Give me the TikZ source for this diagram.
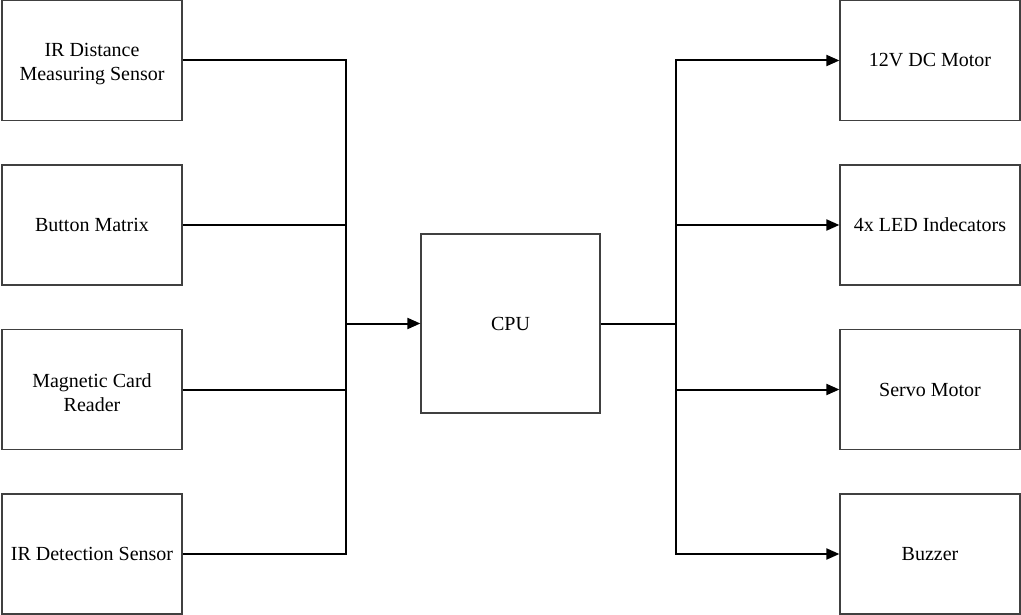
\documentclass[tikz,border=0pt]{standalone}
\usepackage{fontspec}
\setmainfont{Liberation Serif}
\usetikzlibrary{arrows.meta}
\newcommand{\topstrut}{\rule{0pt}{19.5pt}}
\begin{document}
\begin{tikzpicture}[x=1pt,y=-1pt,
  blk/.style={draw=black!75,line width=1.2pt,minimum width=180pt,minimum height=120pt,inner sep=0pt,align=center,font=\fontsize{20pt}{24pt}\selectfont},
  wire/.style={line width=2pt,black},
  arr/.style={wire,-{Triangle[length=13pt,width=11pt]}}]
\useasboundingbox (0,0) rectangle (1021,615);
\node[blk] (s1) at (92,60.5) {\topstrut IR Distance\\Measuring Sensor};
\node[blk] (s2) at (92,225) {Button Matrix};
\node[blk] (s3) at (92,389.5) {\topstrut Magnetic Card\\Reader};
\node[blk] (s4) at (92,554) {IR Detection Sensor};
\node[blk,minimum width=179pt,minimum height=179pt] (cpu) at (510.5,323.5) {CPU};
\node[blk] (o1) at (930,60.5) {12V DC Motor};
\node[blk] (o2) at (930,225) {4x LED Indecators};
\node[blk] (o3) at (930,389.5) {Servo Motor};
\node[blk] (o4) at (930,554) {Buzzer};
\coordinate (jl) at (346,323.5);
\coordinate (jr) at (676,323.5);
\foreach \n in {s1,s2,s3,s4} \draw[wire] (\n.east) -| (jl);
\draw[arr] (jl) -- (cpu.west);
\draw[wire] (cpu.east) -- (jr);
\foreach \n in {o1,o2,o3,o4} \draw[arr] (jr) |- (\n.west);
\end{tikzpicture}
\end{document}
